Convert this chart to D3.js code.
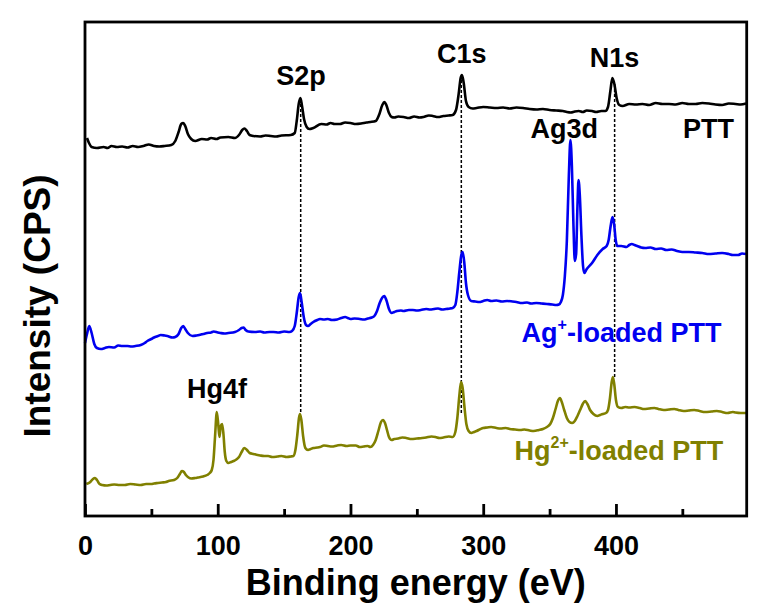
<!DOCTYPE html>
<html>
<head>
<meta charset="utf-8">
<script src="https://cdn.jsdelivr.net/npm/d3@7"></script>
<style>
  html, body { margin: 0; padding: 0; background: #fff; }
  svg { display: block; }
  text { font-family: "Liberation Sans", Arial, Helvetica, sans-serif; font-weight: bold; }
</style>
</head>
<body>
<svg id="chart" width="760" height="616"></svg>
<script>
// ---- data (binding energy in eV, stacked intensity in arbitrary units) ----
const xTicks = [0, 100, 200, 300, 400];
const xMinorTicks = [50, 150, 250, 350, 450];

const pttSpectrum = [[1.5,378],[3,373],[5,369],[9,368],[14,369],[17,368],[20,370],[24,369],[28,369.5],[32,368.5],[36,370],[40,369],[44,370],[48,371.5],[52,370],[56,369.5],[60,370],[65,371],[68,375],[70.5,384],[72.5,392],[74,393],[75.5,390],[77.5,382],[80,377],[83,375],[88,377],[92,376.5],[95,378],[99,377],[102,378.5],[108,379],[113,378],[116,381],[118.5,386],[120,387.5],[122,385],[124,381],[127,380],[132,379.5],[136,380.5],[140,380],[144,379.5],[148,380.5],[155,381],[158,383],[159.5,395],[161,412],[162.3,418],[163.5,410],[165,397],[167,389],[169,387],[172,388],[178,392],[182,391.5],[185,393],[188,392],[192,392],[196,393.5],[200,393],[204,392],[208,392.5],[212,393.5],[215,394],[219,395],[221.5,401],[224,411],[225.5,414],[227,411],[229,403],[231,399],[233,398.5],[236,399.5],[240,399],[244,398],[248,399.5],[252,398.5],[255,399],[259,400.5],[262,400],[266,399],[270,400],[274,400.5],[277,401],[279.5,406],[281.5,422],[283,438],[284,441],[285.3,433],[287,415],[289,409],[292,407.5],[295,408],[300,409],[305,408.5],[310,408],[315,408.5],[320,407.5],[325,408.5],[330,408],[335,407],[340,406.5],[345,407],[350,406],[355,405.5],[360,405],[363,404],[366,403.5],[369,404.5],[372,405],[375,404],[378,405.5],[382,405],[385,404],[389,405],[392,405],[394,409],[395.8,425],[397.3,438],[398.8,432],[400.5,418],[402.5,411],[405,410],[410,412],[415,411.5],[420,412],[425,411],[430,413],[435,412],[440,412],[445,411.5],[450,413],[455,412],[460,412],[465,413],[470,412.5],[475,411.5],[480,411],[485,412.5],[490,412],[494,411.5],[498,412.5]];

const agSpectrum = [[0,173],[1.5,182],[3.2,190],[5,183],[7,172],[9,168],[12,167],[15,168],[18,169],[22,168.5],[25,170.5],[28,170],[32,170],[35,169.5],[38,170],[42,171],[45,173],[47,175],[50,177],[52,178.5],[55,180],[57,181],[60,180.5],[62,180],[66,178.5],[68,179],[70.5,182],[72.5,188],[74,190],[75.5,187],[77.5,183],[81,180],[84,180.5],[86,181],[89,182],[92,183],[95,183.5],[97,184.5],[100,183.5],[102,183],[105,182.5],[108,183],[113,184],[116,186],[118,188],[119.5,188.5],[121,186],[123,184.5],[128,184],[132,184.5],[135,183.5],[139,184],[142,184],[146,183.5],[150,184.5],[154,184],[156,185],[158,190],[159.5,203],[161,219],[162,223],[163.2,214],[164.8,199],[166.5,191],[168,190],[170,192],[172,194],[175,196],[177,197],[180,196.5],[183,197],[186,196],[190,196.5],[193,198],[196,199],[198,198],[200,197],[203,197.5],[207,197],[210,196.5],[213,197.5],[216,198.5],[218,200],[220,205],[222,213],[224,218.5],[225.5,220],[227,216],[229,207],[231,203],[233,204],[235,205],[238,205.5],[240,205],[244,206],[247,206],[250,205.5],[253,206],[257,207],[260,206.5],[263,207],[266,207.5],[269,206.5],[272,207],[275,207.5],[277,208],[279,211],[280.5,224],[282,244],[283.5,261],[284.5,264],[285.7,254],[287,233],[288.5,221],[291,215],[294,214.5],[297,214],[300,215],[303,216],[306,215],[310,215.5],[314,214.5],[318,215],[322,214.5],[325,214],[329,213],[333,213.5],[336,212.5],[340,213],[344,212.5],[348,212],[352,211.5],[355,211],[357,211.5],[358.5,214],[360,221],[361.5,240],[363,275],[364.5,340],[365.7,376],[366.8,350],[368,290],[369,255],[370,262],[371,310],[371.8,336],[372.8,320],[374,280],[375.2,250],[376.2,243],[378,247],[382,253],[386,261],[390,267],[393,270],[394.5,276],[396,290],[397.4,299],[398.6,292],[399.8,276],[401,270],[404,270],[408,269],[410,271],[412,272],[414,271],[416,270],[419,268.5],[422,268],[426,268.5],[430,267],[434,267.5],[438,266],[442,266.5],[446,265],[450,264],[455,264],[460,263.5],[465,263],[470,262],[475,262.5],[480,263],[485,262],[488,261],[492,261],[495,262.5],[498,262]];

const hgSpectrum = [[1,32],[4,34],[6,37],[7.5,38],[9,36],[11,32],[13,31],[16,30.5],[19,31],[22,31.5],[26,31],[30,31],[34,32],[38,31.5],[42,31],[46,32],[50,32],[52,32.5],[55,33],[58,33.5],[61,34],[63,35],[67,36],[69.5,38],[71.5,42],[73,45],[74.5,44],[76,41],[78,38.5],[80,37.5],[83,38],[85,38.5],[89,39.5],[92,41],[94,43],[95.5,46],[96.8,56],[98,80],[99.3,104],[100.5,90],[101.3,79],[102.3,90],[103.3,92],[104.3,82],[105.3,64],[106.5,55],[108,53],[110,54],[112,55],[114,56.5],[116,59],[118,64],[120,68],[122,66],[124,63],[127,62],[130,61],[132,60.5],[135,60],[138,60],[141,59],[145,59.5],[148,60],[152,59],[155,59.5],[157,60],[158.5,66],[160,82],[161.2,98],[162,102],[163,96],[164.3,80],[166,68],[168,66],[170,67],[172,68],[175,68.5],[177,69],[180,70.5],[183,70],[186,69.5],[190,70.5],[193,71],[197,70],[200,70.5],[204,70.5],[207,69],[210,69.5],[213,70],[215,69],[217,71],[219,76],[221,85],[223,94],[224.5,96],[226,93],[227.5,86],[229,79],[231,76],[233,77],[236,77.5],[239,78.5],[242,78],[246,77],[250,77.5],[254,78],[257,78.5],[261,79.5],[264,79],[267,78],[270,78.5],[274,79.5],[277,79],[279,84],[280.5,98],[282,120],[283.3,134],[284.5,128],[285.8,110],[287.3,92],[289,85],[291,83],[293,84],[295,85],[298,87],[300,88],[303,88.5],[306,89],[310,88],[313,87.5],[317,88],[320,87],[324,86.5],[328,86],[331,86.5],[335,85.5],[338,85],[342,86],[345,87],[348,89],[350.5,92],[352.5,98],[354.5,107],[356.5,116],[357.8,118],[359.2,114],[361,106],[363,98],[365,94],[367,93],[369,95],[371,100],[373,106],[375,112],[376.8,115],[378.5,112],[380.5,106],[383,102],[386,100],[388,101],[390,102],[392.5,103],[394,106],[395.5,118],[396.8,134],[397.7,139],[398.7,132],[400,116],[401.5,109],[404,108],[407,109],[410,108.5],[414,109],[418,108],[421,107],[425,107.5],[429,108],[432,107],[436,106],[440,106.5],[444,107],[447,106],[451,105],[455,105.5],[459,106],[463,105],[467,104],[472,104.5],[476,105],[480,104],[484,103],[488,104],[490,103.5],[494,103],[498,103]];

// reference lines at the common peaks
const markerEnergy = [162.5, 283.5, 399];
const markerTop = [412, 436, 432];
const markerBottom = [104, 103, 139];

// peak labels
const peakLabels = ["S2p", "C1s", "N1s", "Ag3d", "Hg4f"];
const peakLabelEnergy = [162.7, 283.8, 399, 361, 99.5];
const peakLabelIntensity = [431, 453, 449, 378, 118];

const seriesNames = ["PTT", "Ag", "Hg"];
const seriesColors = ["#000000", "#0000f0", "#808000"];

// ---- chart ----
const svg = d3.select("#chart");
const margin = { left: 85, right: 13.3, top: 22, bottom: 100 };
const W = 760, H = 616;

const x = d3.scaleLinear().domain([0, 498.5]).range([margin.left, W - margin.right]);
const y = d3.scaleLinear().domain([0, 494]).range([H - margin.bottom, margin.top]);

const line = d3.line().curve(d3.curveMonotoneX).x(d => x(d[0])).y(d => y(d[1]));

// dashed guide lines
svg.append("g").selectAll("line").data(markerEnergy).join("line")
  .attr("x1", d => x(d)).attr("x2", d => x(d))
  .attr("y1", (d, i) => y(markerTop[i])).attr("y2", (d, i) => y(markerBottom[i]))
  .attr("stroke", "#000").attr("stroke-width", 1.5).attr("stroke-dasharray", "3,2");

// spectra
const spectra = [pttSpectrum, agSpectrum, hgSpectrum];
svg.append("g").selectAll("path").data(spectra).join("path")
  .attr("d", line)
  .attr("fill", "none")
  .attr("stroke", (d, i) => seriesColors[i])
  .attr("stroke-width", 2.6)
  .attr("stroke-linejoin", "round");

// frame
svg.append("rect")
  .attr("x", x(0)).attr("y", y(494))
  .attr("width", x(498.5) - x(0)).attr("height", y(0) - y(494))
  .attr("fill", "none").attr("stroke", "#000").attr("stroke-width", 2.8);

// bottom axis (ticks inward)
const xAxis = d3.axisBottom(x).tickValues(xTicks).tickSize(-12).tickPadding(20).tickFormat(d3.format("d"));
const gx = svg.append("g").attr("transform", `translate(0,${y(0)})`).call(xAxis);
gx.select(".domain").remove();
gx.selectAll(".tick line").attr("stroke", "#000").attr("stroke-width", 2.8);
gx.selectAll(".tick text").attr("font-size", 27).attr("fill", "#000")
  .attr("font-family", '"Liberation Sans", Arial, sans-serif').attr("font-weight", "bold");

const xMinor = d3.axisBottom(x).tickValues(xMinorTicks).tickSize(-7).tickFormat("");
const gxm = svg.append("g").attr("transform", `translate(0,${y(0)})`).call(xMinor);
gxm.select(".domain").remove();
gxm.selectAll(".tick line").attr("stroke", "#000").attr("stroke-width", 2.8);

// axis titles
svg.append("text")
  .attr("x", (x(0) + x(498.5)) / 2).attr("y", 595)
  .attr("text-anchor", "middle").attr("font-size", 36).attr("fill", "#000")
  .text("Binding energy (eV)");

svg.append("text")
  .attr("transform", "translate(50,306) rotate(-90)")
  .attr("text-anchor", "middle").attr("font-size", 37).attr("fill", "#000")
  .text("Intensity (CPS)");

// peak labels
svg.append("g").selectAll("text").data(peakLabels).join("text")
  .attr("x", (d, i) => x(peakLabelEnergy[i]))
  .attr("y", (d, i) => y(peakLabelIntensity[i]))
  .attr("text-anchor", "middle").attr("font-size", 27).attr("fill", "#000")
  .text(d => d);

// series labels
svg.append("text")
  .attr("x", x(489)).attr("y", y(378))
  .attr("text-anchor", "end").attr("font-size", 27).attr("fill", seriesColors[0])
  .text("PTT");

const agLabel = svg.append("text")
  .attr("x", x(328.9)).attr("y", y(174))
  .attr("font-size", 27).attr("fill", seriesColors[1]);
agLabel.append("tspan").text("Ag");
agLabel.append("tspan").attr("font-size", 16).attr("dy", -12).text("+");
agLabel.append("tspan").attr("dy", 12).text("-loaded PTT");

const hgLabel = svg.append("text")
  .attr("x", x(323.6)).attr("y", y(56))
  .attr("font-size", 27).attr("fill", seriesColors[2]);
hgLabel.append("tspan").text("Hg");
hgLabel.append("tspan").attr("font-size", 16).attr("dy", -12).text("2+");
hgLabel.append("tspan").attr("dy", 12).text("-loaded PTT");
</script>
</body>
</html>
